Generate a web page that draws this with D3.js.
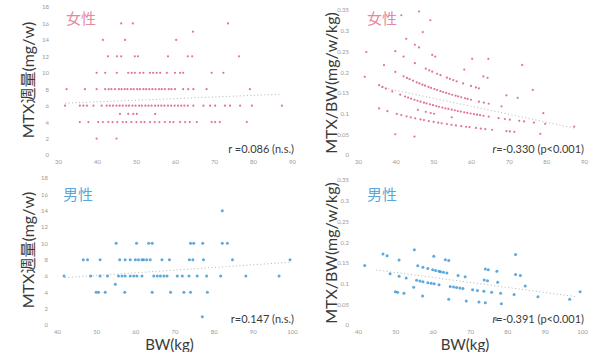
<!DOCTYPE html>
<html>
<head>
<meta charset="utf-8">
<script src="https://cdn.jsdelivr.net/npm/d3@7"></script>
<style>
body{margin:0;background:#fff}
svg{display:block}
</style>
</head>
<body>
<svg id="chart"></svg>
<script>
// weekly MTX dose (mg/w) rows and body weights (kg)
const femaleDose = [16, 15, 14, 12, 10, 8, 6, 5, 4, 2];
const femaleBW = [
  [46.2, 49.2, 73.6],
  [64.6],
  [41.5, 47.2, 60.3],
  [42.8, 45.1, 46.2, 49.7, 50.5, 58.2, 63.3, 64.4, 76.4],
  [39.9, 42.1, 45.1, 48.0, 48.9, 49.7, 51.0, 51.9, 53.6, 54.4, 55.3, 56.2, 57.9, 60.0, 61.3, 62.1, 69.4, 72.4],
  [32.2, 36.9, 39.9, 42.1, 43.0, 43.7, 44.6, 45.6, 46.3, 47.1, 47.8, 48.7, 49.4, 50.3, 51.0, 51.9, 52.6, 53.4, 54.2, 55.0, 55.9, 56.6, 57.4, 58.4, 59.1, 60.0, 62.1, 63.4, 64.7, 68.1, 79.2],
  [31.8, 35.6, 36.5, 37.4, 39.1, 41.2, 42.5, 43.3, 44.1, 45.0, 45.8, 46.6, 47.5, 48.2, 49.1, 49.9, 50.8, 51.5, 52.4, 53.2, 54.0, 54.9, 55.7, 56.5, 57.3, 58.2, 59.0, 59.9, 60.8, 61.6, 62.4, 63.3, 64.7, 67.3, 69.0, 70.3, 72.8, 74.1, 76.7, 79.7, 87.4],
  [45.9, 48.0, 49.3, 50.2, 54.9],
  [35.6, 37.8, 40.3, 41.5, 42.9, 44.0, 45.2, 46.6, 47.5, 48.8, 50.1, 51.3, 52.2, 53.6, 54.8, 56.0, 57.4, 58.7, 59.6, 61.3, 62.6, 63.8, 65.6, 69.4, 70.3, 71.5, 78.4],
  [39.9, 45.0]
];
const maleDose = [14, 10, 8, 6, 5, 4, 1];
const maleBW = [
  [82.2],
  [55.1, 60.3, 63.4, 64.3, 74.1, 74.9, 77.2, 82.2, 83.5],
  [46.7, 47.8, 51.0, 56.0, 57.4, 58.7, 60.0, 60.8, 61.7, 62.1, 62.9, 63.8, 66.8, 68.7, 73.8, 74.7, 77.4, 84.8, 99.5],
  [41.8, 48.6, 51.0, 52.9, 55.7, 56.6, 57.4, 58.7, 59.6, 60.4, 61.7, 64.7, 65.6, 66.4, 67.3, 68.1, 70.7, 72.0, 73.7, 75.8, 78.2, 81.8, 88.2, 96.7],
  [54.9],
  [50.0, 50.6, 52.3, 57.3, 64.3, 69.0, 72.4, 74.1, 78.4],
  [77.1]
];

// dotted regression lines [BW, value]
const femaleDoseTrend = [[31.8, 6.3], [87.4, 7.4]];
const femaleRatioTrend = [[36.2, 0.1635], [87.4, 0.065]];
const maleDoseTrend = [[42.0, 5.8], [100.0, 7.7]];
const maleRatioTrend = [[44.9, 0.133], [98.8, 0.068]];

const femaleXTicks = [30, 40, 50, 60, 70, 80, 90];
const maleXTicks = [40, 50, 60, 70, 80, 90, 100];
const doseTicks = [0, 2, 4, 6, 8, 10, 12, 14, 16, 18];
const ratioTicks = [0, 0.05, 0.1, 0.15, 0.2, 0.25, 0.3, 0.35];

const femaleLabel = '女性';
const maleLabel = '男性';
const doseTitle = 'MTX週量(mg/w)';
const ratioTitle = 'MTX/BW(mg/w/kg)';
const bwTitle = 'BW(kg)';
const corrText = ['r =0.086 (n.s.)', '=-0.330 (p<0.001)', 'r=0.147 (n.s.)', '=-0.391 (p<0.001)'];

const pink = '#dc5d7c', pinkLabel = '#e58a9e';
const blue = '#3f9ad4', blueLabel = '#58a9d9';
const font = "Lato, 'Noto Sans CJK JP', sans-serif";

let svg = d3.select('#chart').attr('width', 590).attr('height', 352);

function flatten(doses, bws, ratio) {
  let pts = [];
  doses.forEach((d, i) => {
    bws[i].forEach(b => pts.push({bw: b, v: ratio ? d / b : d}));
  });
  return pts;
}

let panels = [
  {x0: 58, x1: 292, y0: 155, y1: 7, xdom: [30, 90], ydom: [0, 18], xt: femaleXTicks, yt: doseTicks,
   pts: flatten(femaleDose, femaleBW, false), trend: femaleDoseTrend, col: pink, lcol: pinkLabel, r: 1.1,
   label: femaleLabel, lx: 66, ly: 24, title: doseTitle, tx: 27, ty: 80, corr: corrText[0], italic: false},
  {x0: 358, x1: 584, y0: 155, y1: 10, xdom: [30, 90], ydom: [0, 0.35], xt: femaleXTicks, yt: ratioTicks,
   pts: flatten(femaleDose, femaleBW, true), trend: femaleRatioTrend, col: pink, lcol: pinkLabel, r: 1.1,
   label: femaleLabel, lx: 367, ly: 24, title: ratioTitle, tx: 330, ty: 83, corr: corrText[1], italic: true},
  {x0: 57, x1: 292, y0: 325, y1: 178, xdom: [40, 100], ydom: [0, 18], xt: maleXTicks, yt: doseTicks,
   pts: flatten(maleDose, maleBW, false), trend: maleDoseTrend, col: blue, lcol: blueLabel, r: 1.5,
   label: maleLabel, lx: 63, ly: 200, title: doseTitle, tx: 27, ty: 250, corr: corrText[2], italic: false},
  {x0: 358, x1: 582, y0: 325, y1: 180, xdom: [40, 100], ydom: [0, 0.35], xt: maleXTicks, yt: ratioTicks,
   pts: flatten(maleDose, maleBW, true), trend: maleRatioTrend, col: blue, lcol: blueLabel, r: 1.5,
   label: maleLabel, lx: 367, ly: 200, title: ratioTitle, tx: 330, ty: 253, corr: corrText[3], italic: true}
];

panels.forEach((p, k) => {
  let g = svg.append('g');
  let x = d3.scaleLinear().domain(p.xdom).range([p.x0, p.x1]);
  let y = d3.scaleLinear().domain(p.ydom).range([p.y0, p.y1]);

  // axes drawn as tick labels only
  let xa = g.append('g').attr('transform', `translate(0,${p.y0 + 2})`)
    .call(d3.axisBottom(x).tickValues(p.xt).tickSize(0).tickFormat(d => d));
  let ya = g.append('g').attr('transform', `translate(${p.x0 - 6},0)`)
    .call(d3.axisLeft(y).tickValues(p.yt).tickSize(0).tickFormat(d => d));
  [xa, ya].forEach(a => {
    a.select('.domain').remove();
    a.selectAll('text').attr('fill', '#9a9a9a').style('font-size', '6px').style('font-family', font);
  });

  // trend line
  g.append('path')
    .datum(p.trend)
    .attr('d', d3.line().x(d => x(d[0])).y(d => y(d[1])))
    .attr('fill', 'none')
    .attr('stroke', '#b5b5b5')
    .attr('stroke-width', 1)
    .attr('stroke-dasharray', '1,2.5');

  g.selectAll('circle.pt')
    .data(p.pts)
    .join('circle')
    .attr('class', 'pt')
    .attr('cx', d => x(d.bw))
    .attr('cy', d => y(d.v))
    .attr('r', p.r)
    .attr('fill', p.col)
    .attr('opacity', 0.85);

  g.append('text')
    .attr('x', p.lx).attr('y', p.ly)
    .text(p.label)
    .attr('fill', p.lcol)
    .style('font-size', '15px')
    .style('font-family', font);

  g.append('text')
    .attr('transform', `translate(${p.tx},${p.ty}) rotate(-90)`)
    .attr('text-anchor', 'middle')
    .attr('dominant-baseline', 'central')
    .text(p.title)
    .attr('fill', '#3a3a3a')
    .style('font-size', '16px')
    .style('font-family', font);

  let c = g.append('text')
    .attr('x', k % 2 ? 584 : p.x1 + 2).attr('y', p.y0 - 2)
    .attr('text-anchor', 'end')
    .attr('fill', '#3a3a3a')
    .style('font-size', '11px')
    .style('font-family', font);
  if (p.italic) {
    c.append('tspan').text('r').style('font-style', 'italic');
  }
  c.append('tspan').text(p.corr);

  if (k >= 2) {
    g.append('text')
      .attr('x', (p.x0 + p.x1) / 2 - 5).attr('y', 350)
      .attr('text-anchor', 'middle')
      .text(bwTitle)
      .attr('fill', '#3a3a3a')
      .style('font-size', '15px')
      .style('font-family', font);
  }
});
</script>
</body>
</html>
